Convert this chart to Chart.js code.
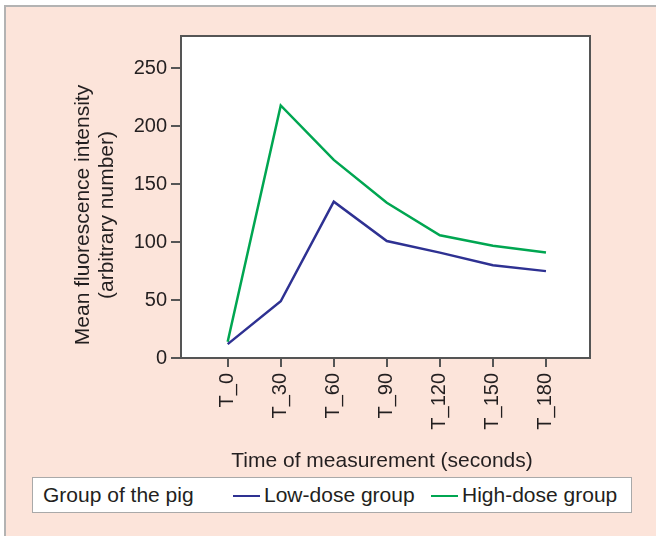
<!DOCTYPE html>
<html>
<head>
<meta charset="utf-8">
<script src="https://cdn.jsdelivr.net/npm/chart.js@4.4.1/dist/chart.umd.min.js"></script>
<style>
  html, body { margin: 0; padding: 0; background: #fff; }
  body { width: 656px; height: 536px; position: relative; overflow: hidden; font-family: "Liberation Sans", Arial, sans-serif; }
  .frame { position: absolute; left: 4px; top: 5px; width: 700px; height: 600px; background: #fce4da; border: 2px solid #b3b3b3; }
  #canvas { position: absolute; left: 0; top: 0; }
  .legend { position: absolute; left: 32px; top: 477px; width: 598px; height: 34px; background: #fff; border: 1.5px solid #a9a9a9;
            font-size: 21px; color: #231f20; line-height: 34px; white-space: nowrap; }
  .legend span { position: absolute; top: 0; }
  .legend i { position: absolute; top: 17px; height: 2px; width: 27px; }
</style>
</head>
<body>
<div class="frame"></div>
<canvas id="canvas" width="656" height="536"></canvas>
<div class="legend" id="legend"></div>
<script>
var categories = ['T_0', 'T_30', 'T_60', 'T_90', 'T_120', 'T_150', 'T_180'];
var lowDose  = [12, 49, 135, 101, 91, 80, 75];
var highDose = [14, 218, 171, 134, 106, 97, 91];
var yTicks = [0, 50, 100, 150, 200, 250];
var yTitle = ['Mean fluorescence intensity', '(arbitrary number)'];
var xTitle = 'Time of measurement (seconds)';
var legendTitle = 'Group of the pig';

function points(values) {
	var out = [];
	for (var i in values) {
		out.push({x: Number(i), y: values[i]});
	}
	return out;
}

// white plot area with a box round it, plus both axis titles
// (the original puts them a little off the plot centre)
var plotFrame = {
	id: 'plotFrame',
	beforeDraw: function(chart) {
		var a = chart.chartArea, ctx = chart.ctx;
		ctx.save();
		ctx.fillStyle = '#fff';
		ctx.fillRect(a.left, a.top, a.right - a.left, a.bottom - a.top);
		ctx.restore();
	},
	afterDraw: function(chart) {
		var a = chart.chartArea, ctx = chart.ctx;
		ctx.save();
		ctx.strokeStyle = '#555';
		ctx.lineWidth = 2;
		ctx.strokeRect(a.left, a.top, a.right - a.left, a.bottom - a.top);

		ctx.fillStyle = '#231f20';
		ctx.font = '21px "Liberation Sans", Arial, sans-serif';
		ctx.textAlign = 'center';
		ctx.textBaseline = 'middle';
		ctx.fillText(xTitle, 382, 461);

		ctx.translate(83, 215);
		ctx.rotate(-Math.PI / 2);
		for (var i = 0; i < yTitle.length; i++) {
			ctx.fillText(yTitle[i], 0, i * 24.5);
		}
		ctx.restore();
	}
};

Chart.defaults.font.family = '"Liberation Sans", Arial, sans-serif';
Chart.defaults.color = '#231f20';

var ctx = document.getElementById('canvas').getContext('2d');
var chart = new Chart(ctx, {
	type: 'line',
	data: {
		datasets: [{
			label: 'Low-dose group',
			data: points(lowDose),
			borderColor: '#2e3192',
			borderWidth: 2.5,
			pointRadius: 0,
			fill: false
		}, {
			label: 'High-dose group',
			data: points(highDose),
			borderColor: '#00a651',
			borderWidth: 2.5,
			pointRadius: 0,
			fill: false
		}]
	},
	options: {
		responsive: false,
		animation: false,
		layout: {
			padding: {left: 60, top: 36, right: 66, bottom: 62}
		},
		plugins: {
			legend: {display: false},
			tooltip: {enabled: false}
		},
		scales: {
			x: {
				type: 'linear',
				min: -0.88,
				max: 6.83,
				afterBuildTicks: function(scale) {
					scale.ticks = categories.map(function(c, i) { return {value: i}; });
				},
				afterFit: function(scale) { scale.height = 116; },
				ticks: {
					font: {size: 20},
					minRotation: 90,
					maxRotation: 90,
					padding: 6,
					callback: function(v) { return categories[v]; }
				},
				grid: {drawOnChartArea: false, drawTicks: true, tickLength: 9, color: '#555', lineWidth: 2},
				border: {display: true, color: '#555', width: 2},
				title: {display: false}
			},
			y: {
				min: 0,
				max: 278,
				afterBuildTicks: function(scale) {
					scale.ticks = yTicks.map(function(v) { return {value: v}; });
				},
				afterFit: function(scale) { scale.width = 121; },
				ticks: {font: {size: 20}, padding: 4},
				grid: {drawOnChartArea: false, drawTicks: true, tickLength: 10, color: '#555', lineWidth: 2},
				border: {display: true, color: '#555', width: 2},
				title: {display: false}
			}
		}
	},
	plugins: [plotFrame]
});

// legend box under the chart, from the datasets
var legendX = [232, 430];
var html = "<span style='left:10px'>" + legendTitle + "</span>";
chart.data.datasets.forEach(function(ds, i) {
	var x = legendX[i] - 32;
	html += "<i style='left:" + x + "px;background:" + ds.borderColor + "'></i>";
	html += "<span style='left:" + (x + 31) + "px'>" + ds.label + "</span>";
});
document.getElementById('legend').innerHTML = html;
</script>
</body>
</html>
